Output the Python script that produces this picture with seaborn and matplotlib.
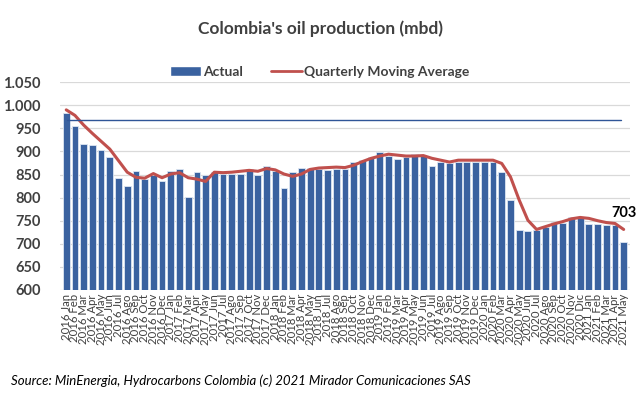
import pandas as pd
import matplotlib
matplotlib.use("Agg")
import matplotlib.pyplot as plt
import seaborn as sns
from matplotlib.ticker import FuncFormatter
from matplotlib.lines import Line2D
from matplotlib.patches import Patch

sns.set_style("white")
plt.rcParams['font.family'] = ['Lato', 'DejaVu Sans']

# monthly labels, Jan 2016 - May 2021
months = ["Jan", "Feb", "Mar", "Apr", "May", "Jun", "Jul", "Ago", "Sep", "Oct", "Nov", "Dec"]
labels = []
for yr in range(2016, 2022):
    for m in months:
        mm = "Dic" if (yr == 2020 and m == "Dec") else m
        labels.append(f"{yr} {mm}")
labels = labels[:65]

# actual production (thousand barrels per day)
actual = [983, 955, 916, 913, 903, 888, 843, 825, 858, 841, 849, 836,
          858, 861, 802, 855, 848, 855, 851, 852, 851, 862, 848, 868,
          857, 820, 856, 864, 863, 862, 859, 862, 862, 877, 881, 887,
          898, 890, 883, 887, 894, 890, 868, 877, 874, 877, 877, 877,
          877, 876, 855, 795, 730, 728, 730, 737, 747, 744, 757, 755,
          743, 743, 741, 741, 703]

# quarterly moving average
moving_avg = [990, 978, 957, 939, 922, 905, 880, 855, 844, 842, 852, 843,
              851, 854, 843, 840, 835, 855, 854, 855, 857, 859, 857, 863,
              860, 851, 846, 851, 861, 864, 865, 866, 865, 870, 878, 885,
              890, 894, 892, 890, 890, 891, 885, 881, 877, 881, 881, 881,
              881, 881, 874, 845, 795, 751, 731, 737, 743, 748, 754, 757,
              755, 750, 746, 744, 731]

ref_level = 967
last_label = 703

df = pd.DataFrame({"month": labels, "actual": actual, "ma": moving_avg})

bar_color = "#3A62A0"
line_color = "#C0504D"
text_color = "#404040"

fig, ax = plt.subplots(figsize=(6.4, 3.95), dpi=100)
fig.subplots_adjust(left=0.094, right=0.984, bottom=0.266, top=0.792)

sns.barplot(data=df, x="month", y="actual", color=bar_color, width=0.78,
            saturation=1, edgecolor="#DDE6F2", linewidth=0.6, ax=ax)
sns.lineplot(data=df, x="month", y="ma", color=line_color, linewidth=2.2,
             sort=False, ax=ax)
ax.axhline(ref_level, xmin=0.012, xmax=0.985, color="#2F5597", linewidth=1.0)

ax.set_ylim(600, 1050)
ax.set_xlim(-0.7, len(labels) - 0.3)
ax.set_yticks(range(600, 1051, 50))
ax.yaxis.set_major_formatter(FuncFormatter(lambda v, p: f"{int(v):,}".replace(",", ".")))
ax.grid(axis="y", color="#D9D9D9", linewidth=0.9)
ax.set_axisbelow(True)
for s in ax.spines.values():
    s.set_visible(False)
ax.set_xlabel("")
ax.set_ylabel("")
ax.tick_params(axis="y", labelsize=10.5, colors=text_color, length=0, pad=14)
for t in ax.get_yticklabels():
    t.set_fontweight("bold")
ax.tick_params(axis="x", labelsize=8.2, colors=text_color, length=0, pad=3)
plt.setp(ax.get_xticklabels(), rotation=90)

ax.text(len(labels) - 0.9, actual[-1] + 63, str(last_label), ha="center",
        va="center", fontsize=10.5, fontweight="bold", color="black")

fig.text(0.5, 0.928, "Colombia's oil production (mbd)", ha="center", va="center",
         fontsize=12.5, fontweight="bold", color=text_color)

handles = [Patch(facecolor=bar_color, label="Actual"),
           Line2D([0], [0], color=line_color, linewidth=2, label="Quarterly Moving Average")]
fig.legend(handles=handles, loc="center", bbox_to_anchor=(0.5, 0.818), ncol=2,
           frameon=False, handlelength=2.2, handletextpad=0.2,
           columnspacing=2.0, prop={"weight": "bold", "size": 10})
for t in fig.legends[0].get_texts():
    t.set_color(text_color)

fig.text(0.017, 0.037, "Source: MinEnergia, Hydrocarbons Colombia (c) 2021 Mirador Comunicaciones SAS",
         ha="left", va="center", fontsize=9.5, fontstyle="italic", color="black")

plt.savefig("out.png", dpi=100)
